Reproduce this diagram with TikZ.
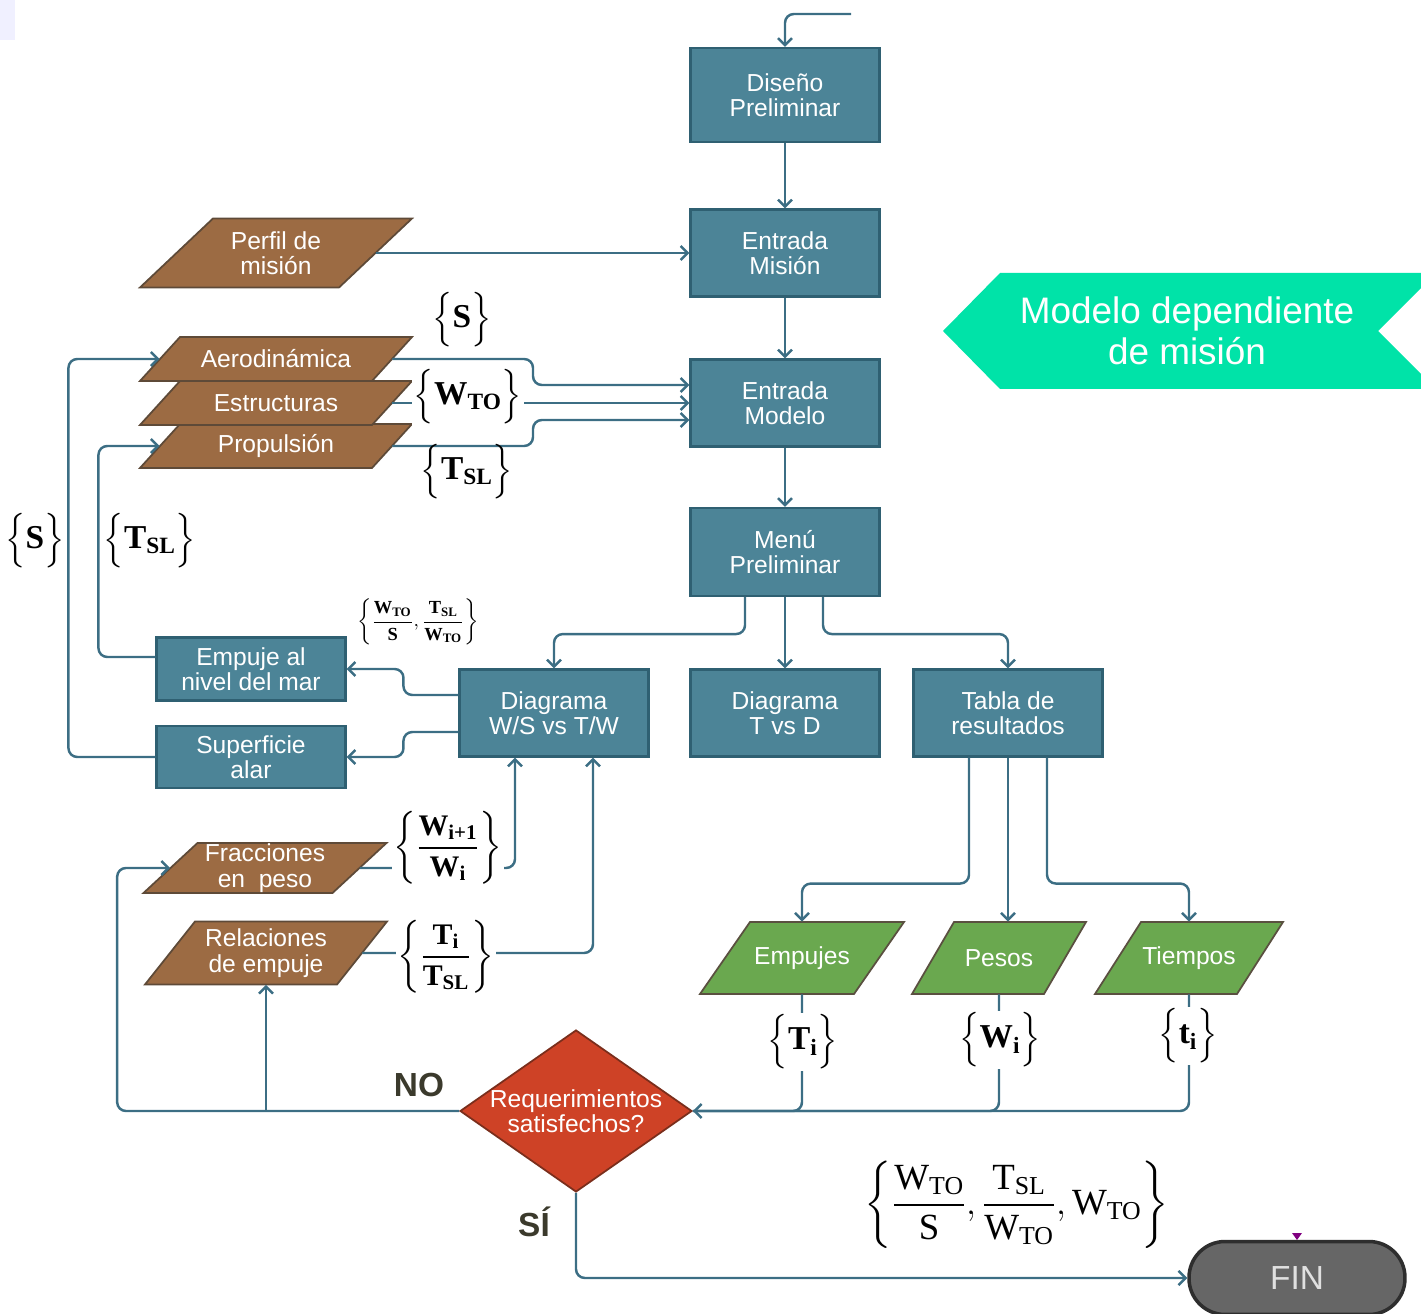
\documentclass[tikz,border=0pt]{standalone}
\usepackage{amsmath}
\usepackage{fontspec}
\setmainfont{Liberation Sans}
\newfontfamily\tms{Liberation Serif}
\usetikzlibrary{arrows.meta, positioning, shapes.geometric, calc}

\definecolor{boxblue}{HTML}{4C8497}
\definecolor{boxedge}{HTML}{2F6072}
\definecolor{linecol}{HTML}{3C6E84}
\definecolor{brownfill}{HTML}{9C6B43}
\definecolor{brownedge}{HTML}{5E4A38}
\definecolor{greenfill}{HTML}{6AA84F}
\definecolor{greenedge}{HTML}{5A5040}
\definecolor{redfill}{HTML}{CE4226}
\definecolor{rededge}{HTML}{7A2E1C}
\definecolor{fingray}{HTML}{666666}
\definecolor{bannercol}{HTML}{00E3A8}
\definecolor{nocol}{HTML}{3B3A2C}

\newcommand{\bt}[1]{\text{\tms\bfseries #1}}
\newcommand{\rt}[1]{\text{\tms #1}}
% parallelogram: style, name, centre, mid width, height, slant, text
\newcommand{\pgram}[7]{%
  \draw[#1] (#3) ++(-#4/2-#6/2, #5/2) -- ++(#4,0) -- ++(#6,-#5) -- ++(-#4,0) -- cycle;
  \node[ptext, minimum width=#4*0.02cm, minimum height=#5*0.02cm] (#2) at (#3) {#7};}

\begin{document}
\begin{tikzpicture}[
    x=0.02cm, y=-0.02cm,
    box/.style={draw=boxedge, line width=1.2pt, fill=boxblue, text=white, minimum width=3.78cm, minimum height=1.74cm, align=center, inner sep=0pt, font=\fontsize{14}{14.5}\selectfont},
    datain/.style={draw=brownedge, line width=1pt, fill=brownfill},
    result/.style={draw=greenedge, line width=1pt, fill=greenfill},
    ptext/.style={inner sep=0pt, text=white, align=center, font=\fontsize{14}{14.5}\selectfont},
    decide/.style={diamond, draw=rededge, line width=1pt, fill=redfill, minimum width=4.64cm, minimum height=3.24cm, inner sep=0pt},
    term/.style={rectangle, rounded corners=0.72cm, draw=fingray!45!black, line width=2pt, fill=fingray, minimum width=4.32cm, minimum height=1.46cm, text=white!88!black, font=\fontsize{19}{19}\selectfont},
    flow/.style={draw=linecol, line width=1.4pt, rounded corners=5pt, -{Straight Barb[length=4pt,width=8pt]}},
    link/.style={draw=linecol, line width=1.4pt, rounded corners=5pt},
    lbl/.style={inner sep=1pt, font=\tms\fontsize{19}{19}\selectfont},
    onlink/.style={lbl, fill=white},
    yesno/.style={text=nocol, font=\bfseries\fontsize{19}{19}\selectfont}
]
    \useasboundingbox (0,0) rectangle (1421,1314);
    \clip (0,0) rectangle (1421,1314);
    \fill[blue!6] (0,0) rectangle (15,40);

    % banner on the right
    \fill[bannercol] (943,331) -- (1000,273) -- (1436,273) -- (1378,331) -- (1436,389) -- (1000,389) -- cycle;
    \node[text=white, align=center, font=\fontsize{21}{23.5}\selectfont] (banner) at (1187,331) {Modelo dependiente\\de misión};

    % main column
    \node[box, minimum height=1.88cm] (dis) at (785,95) {Diseño\\Preliminar};
    \node[box] (mis) at (785,253) {Entrada\\Misión};
    \node[box] (mod) at (785,403) {Entrada\\Modelo};
    \node[box, minimum height=1.76cm] (menu) at (785,552) {Menú\\Preliminar};
    \node[box] (ws) at (554,713) {Diagrama\\W/S vs T/W};
    \node[box] (tvd) at (785,713) {Diagrama\\T vs D};
    \node[box] (tab) at (1008,713) {Tabla de\\resultados};
    \node[box, minimum height=1.26cm] (emp) at (251,669) {Empuje al\\nivel del mar};
    \node[box, minimum height=1.24cm] (sup) at (251,757) {Superficie\\alar};

    % data inputs
    \pgram{datain}{perf}{276,253}{199}{69}{73}{Perfil de\\misión}
    \pgram{datain}{prop}{276,446}{232}{44}{40}{Propulsión}
    \pgram{datain}{estr}{276,403}{232}{44}{40}{Estructuras}
    \pgram{datain}{aero}{276,359}{232}{44}{40}{Aerodinámica}
    \pgram{datain}{frac}{265,868}{189}{50}{54}{Fracciones\\en~ peso}
    \pgram{datain}{rel}{266,953}{192}{63}{50}{Relaciones\\de empuje}

    % results
    \pgram{result}{empj}{802,958}{154}{72}{50}{Empujes}
    \pgram{result}{pes}{999,958}{132}{72}{42}{Pesos}
    \pgram{result}{tiem}{1189,958}{142}{72}{46}{Tiempos}

    \node[decide] (req) at (576,1111) {};
    \node[text=white, align=center, font=\fontsize{14}{14.5}\selectfont] (reqtxt) at (req) {Requerimientos\\satisfechos?};
    \node[term] (fin) at (1297,1278) {FIN};
    \fill[violet] (1292,1233) -- (1302,1233) -- (1297,1240) -- cycle;

    % connectors
    \coordinate (start) at (851,14);
    \draw[flow] (start) -| (dis.north);
    \draw[flow] (dis) -- (mis);
    \draw[flow] (perf.east) -- (mis.west);
    \draw[flow] (mis) -- (mod);
    \draw[flow] (aero.east) -| (533,385) -- ($(mod.west)+(0,-18)$);
    \draw[flow] (estr.east) -- (mod.west);
    \draw[flow] (prop.east) -| (533,420) -- ($(mod.west)+(0,17)$);
    \draw[flow] (mod) -- (menu);
    \draw[flow] ($(menu.south)+(-40,0)$) -- ++(0,37) -| (ws.north);
    \draw[flow] (menu) -- (tvd);
    \draw[flow] ($(menu.south)+(38,0)$) -- ++(0,37) -| (tab.north);
    \draw[flow] ($(ws.west)+(0,-18)$) -- ++(-55,0) |- (emp.east);
    \draw[flow] ($(ws.west)+(0,19)$) -- ++(-55,0) |- (sup.east);
    \draw[flow] ($(emp.west)+(0,-12)$) -- ++(-57,0) |- (prop.west);
    \draw[flow] (sup.west) -- ++(-87,0) |- (aero.west);
    \draw[flow] (frac.east) -| ($(ws.south)+(-39,0)$);
    \draw[flow] (rel.east) -| ($(ws.south)+(39,0)$);
    \draw[flow] ($(tab.south)+(-39,0)$) -- ++(0,126) -| (empj.north);
    \draw[flow] (tab.south) -- (tab.south |- pes.north);
    \draw[flow] ($(tab.south)+(39,0)$) -- ++(0,126) -| (tiem.north);
    \draw[link] (empj.south) |- (req.east);
    \draw[link] (pes.south) |- (req.east);
    \draw[flow] (tiem.south) |- (req.east);
    \draw[flow] (req.west) -- ++(-342,0) |- (frac.west);
    \coordinate (split) at (req.west -| rel.south);
    \draw[flow] (split) -- (rel.south);
    \draw[flow] (req.south) |- (fin.west);

    % data labels
    \node[lbl] (ls) at (462,320) {$\Bigl\{\bt{S}\Bigr\}$};
    \node[onlink] (lwto) at (468,397) {$\Bigl\{\bt{W}_{\bt{TO}}\Bigr\}$};
    \node[lbl] (ltsl) at (467,472) {$\Bigl\{\bt{T}_{\bt{SL}}\Bigr\}$};
    \node[lbl] (ls2) at (35,541) {$\Bigl\{\bt{S}\Bigr\}$};
    \node[lbl] (ltsl2) at (150,541) {$\Bigl\{\bt{T}_{\bt{SL}}\Bigr\}$};
    \node[lbl, font=\tms\fontsize{10.5}{10.5}\selectfont] (lratio) at (418,622)
        {$\left\{\dfrac{\bt{W}_{\bt{TO}}}{\bt{S}},\dfrac{\bt{T}_{\bt{SL}}}{\bt{W}_{\bt{TO}}}\right\}$};
    \node[onlink, font=\tms\fontsize{17}{17}\selectfont] (lfrac) at (448,848)
        {$\left\{\dfrac{\bt{W}_{\bt{i+1}}}{\bt{W}_{\bt{i}}}\right\}$};
    \node[onlink, font=\tms\fontsize{17}{17}\selectfont] (lrel) at (446,957)
        {$\left\{\dfrac{\bt{T}_{\bt{i}}}{\bt{T}_{\bt{SL}}}\right\}$};
    \node[onlink] (lti) at (803,1042) {$\Bigl\{\bt{T}_{\bt{i}}\Bigr\}$};
    \node[onlink] (lwi) at (1000,1040) {$\Bigl\{\bt{W}_{\bt{i}}\Bigr\}$};
    \node[onlink] (ltt) at (1188,1036) {$\Bigl\{\bt{t}_{\bt{i}}\Bigr\}$};
    \node[lbl, font=\tms\fontsize{21}{21}\selectfont] (lout) at (1017,1205)
        {$\left\{\dfrac{\rt{W}_{\rt{TO}}}{\rt{S}},\dfrac{\rt{T}_{\rt{SL}}}{\rt{W}_{\rt{TO}}},\rt{W}_{\rt{TO}}\right\}$};

    \node[yesno] (no) at (419,1085) {NO};
    \node[yesno] (si) at (534,1222) {SÍ};
\end{tikzpicture}
\end{document}
